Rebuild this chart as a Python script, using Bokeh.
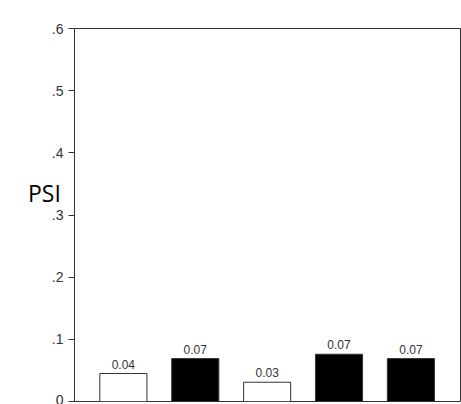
from bokeh.plotting import figure
from bokeh.models import ColumnDataSource, FixedTicker, Label, Range1d, LabelSet
from bokeh.embed import file_html
from bokeh.resources import INLINE
from bokeh.core.properties import value

# data
positions = [1, 2, 3, 4, 5]
psi_values = [0.045, 0.069, 0.031, 0.076, 0.069]
bar_labels = ["0.04", "0.07", "0.03", "0.07", "0.07"]
bar_fills = ["white", "black", "white", "black", "black"]
tick_values = [0.0, 0.1, 0.2, 0.3, 0.4, 0.5, 0.6]
tick_labels = ["0", ".1", ".2", ".3", ".4", ".5", ".6"]
y_title = "PSI"

src = ColumnDataSource(dict(x=positions, top=psi_values, lab=bar_labels, fill=bar_fills))

p = figure(width=461, height=404, output_backend="svg", toolbar_location=None,
           x_axis_location=None, x_range=Range1d(0.32, 5.69), y_range=Range1d(0, 0.6),
           min_border_left=74, min_border_right=1, min_border_top=28, min_border_bottom=3)
p.background_fill_color = "white"
p.border_fill_color = "white"
p.xgrid.visible = False
p.ygrid.visible = False
p.outline_line_color = "#333333"
p.outline_line_width = 1
p.outline_line_alpha = 1.0

p.vbar(x="x", top="top", width=0.655, bottom=0, fill_color="fill", line_color="#333333",
       line_width=1, source=src)

p.add_layout(LabelSet(x="x", y="top", text="lab", source=src, text_align="center",
                      text_baseline="alphabetic", y_offset=5, text_font=value("Liberation Sans"),
                      text_font_size="12px", text_color="#333333"))

ya = p.yaxis[0]
ya.ticker = FixedTicker(ticks=tick_values)
ya.major_label_overrides = dict(zip(tick_values, tick_labels))
ya.minor_tick_line_color = None
ya.major_tick_in = 0
ya.major_tick_out = 6
ya.major_tick_line_color = "#333333"
ya.axis_line_color = "#333333"
ya.major_label_text_font = "Liberation Sans"
ya.major_label_text_font_size = "14px"
ya.major_label_text_color = "#333333"
ya.major_label_standoff = 5

ya.axis_label = y_title + "\n "
ya.axis_label_orientation = "horizontal"
ya.axis_label_text_font = "Open Sans"
ya.axis_label_text_font_size = "23px"
ya.axis_label_text_line_height = 1.4
ya.axis_label_text_font_style = "normal"
ya.axis_label_text_color = "black"
ya.axis_label_text_align = "left"
ya.axis_label_standoff = -12

open("out.html", "w").write(file_html(p, INLINE))
